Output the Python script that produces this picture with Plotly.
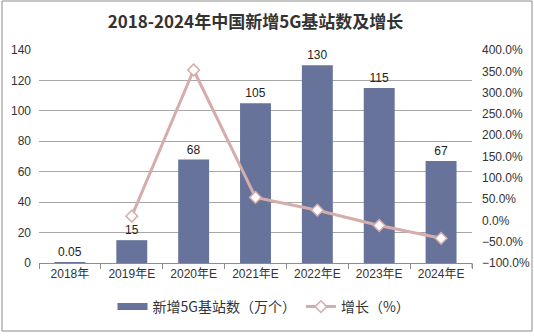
import plotly.graph_objects as go

categories = ["2018年", "2019年E", "2020年E", "2021年E", "2022年E", "2023年E", "2024年E"]
stations = [0.05, 15, 68, 105, 130, 115, 67]
growth = [None, 10, 353, 54, 24, -12, -42]
station_labels = ["0.05", "15", "68", "105", "130", "115", "67"]

W, H = 534, 336
L, R, T, B = 39, 62, 50, 73
pw, ph = W - L - R, H - T - B

def px_x(x):
    return (x - L) / pw

def px_y(y):
    return (H - B - y) / ph

BAR_COLOR = "#67739a"
LINE_COLOR = "#d5adab"

fig = go.Figure()
fig.add_trace(go.Bar(
    x=categories, y=stations, name="新增5G基站数（万个）",
    marker=dict(color=BAR_COLOR, line=dict(width=0)),
    text=station_labels, textposition="outside",
    textfont=dict(size=12, color="#222222", family="Liberation Sans, Arial"),
    cliponaxis=False, yaxis="y", showlegend=False,
))
# legend stand-in for the bar series (wide flat swatch)
fig.add_trace(go.Scatter(
    x=[categories[0]], y=[None], name="新增5G基站数（万个）", mode="lines",
    line=dict(color=BAR_COLOR, width=7), yaxis="y", showlegend=True,
))
fig.add_trace(go.Scatter(
    x=categories, y=growth, name="增长（%）", mode="lines+markers",
    line=dict(color=LINE_COLOR, width=3),
    marker=dict(symbol="diamond", size=9, color="white",
                line=dict(color=LINE_COLOR, width=1.5)),
    yaxis="y2", connectgaps=False,
))

fig.update_layout(
    width=W, height=H, autosize=False,
    margin=dict(l=L, r=R, t=T, b=B, autoexpand=False),
    paper_bgcolor="white", plot_bgcolor="white",
    bargap=0.5,
    font=dict(family="Liberation Sans, Arial, Noto Sans CJK SC", size=12, color="#333333"),
    title=dict(text="<b>2018-2024年中国新增5G基站数及增长</b>", x=0.5, xref="paper",
               xanchor="center", y=1 - 22 / H, yanchor="middle",
               font=dict(size=17, color="#333333", family="Noto Sans CJK SC")),
    xaxis=dict(
        showline=True, linecolor="#8c8c8c", linewidth=1, automargin=False,
        ticks="outside", tickson="boundaries", ticklen=5, tickcolor="#8c8c8c",
        tickfont=dict(size=12, color="#333333", family="Liberation Sans, Noto Sans CJK SC"),
        showgrid=False, fixedrange=True,
    ),
    yaxis=dict(
        range=[0, 140], dtick=20, showgrid=True, gridcolor="#a6a6a6", gridwidth=1,
        showline=False, zeroline=False, ticks="", ticklabelstandoff=7, automargin=False,
        tickfont=dict(size=12, color="#333333"),
    ),
    yaxis2=dict(
        range=[-100, 400], dtick=50, overlaying="y", side="right", automargin=False,
        showgrid=False, zeroline=False, showline=False, ticklabelstandoff=9,
        tickformat=".1f", ticksuffix="%",
        tickfont=dict(size=12, color="#333333"),
    ),
    legend=dict(
        orientation="h", x=px_x(264), xanchor="center", xref="paper",
        y=px_y(307), yanchor="middle",
        font=dict(size=14, color="#333333", family="Noto Sans CJK SC"),
        itemwidth=30, tracegroupgap=0,
    ),
    showlegend=True,
    shapes=[
        dict(type="rect", xref="paper", yref="paper",
             x0=px_x(2), x1=px_x(532), y0=px_y(331), y1=px_y(1),
             line=dict(color="#8c8c8c", width=1), fillcolor="rgba(0,0,0,0)", layer="below"),
        dict(type="line", xref="paper", yref="paper",
             x0=1, x1=1, y0=0, y1=-5 / ph, line=dict(color="#8c8c8c", width=1)),
    ],
)

fig.write_html("out.html")
